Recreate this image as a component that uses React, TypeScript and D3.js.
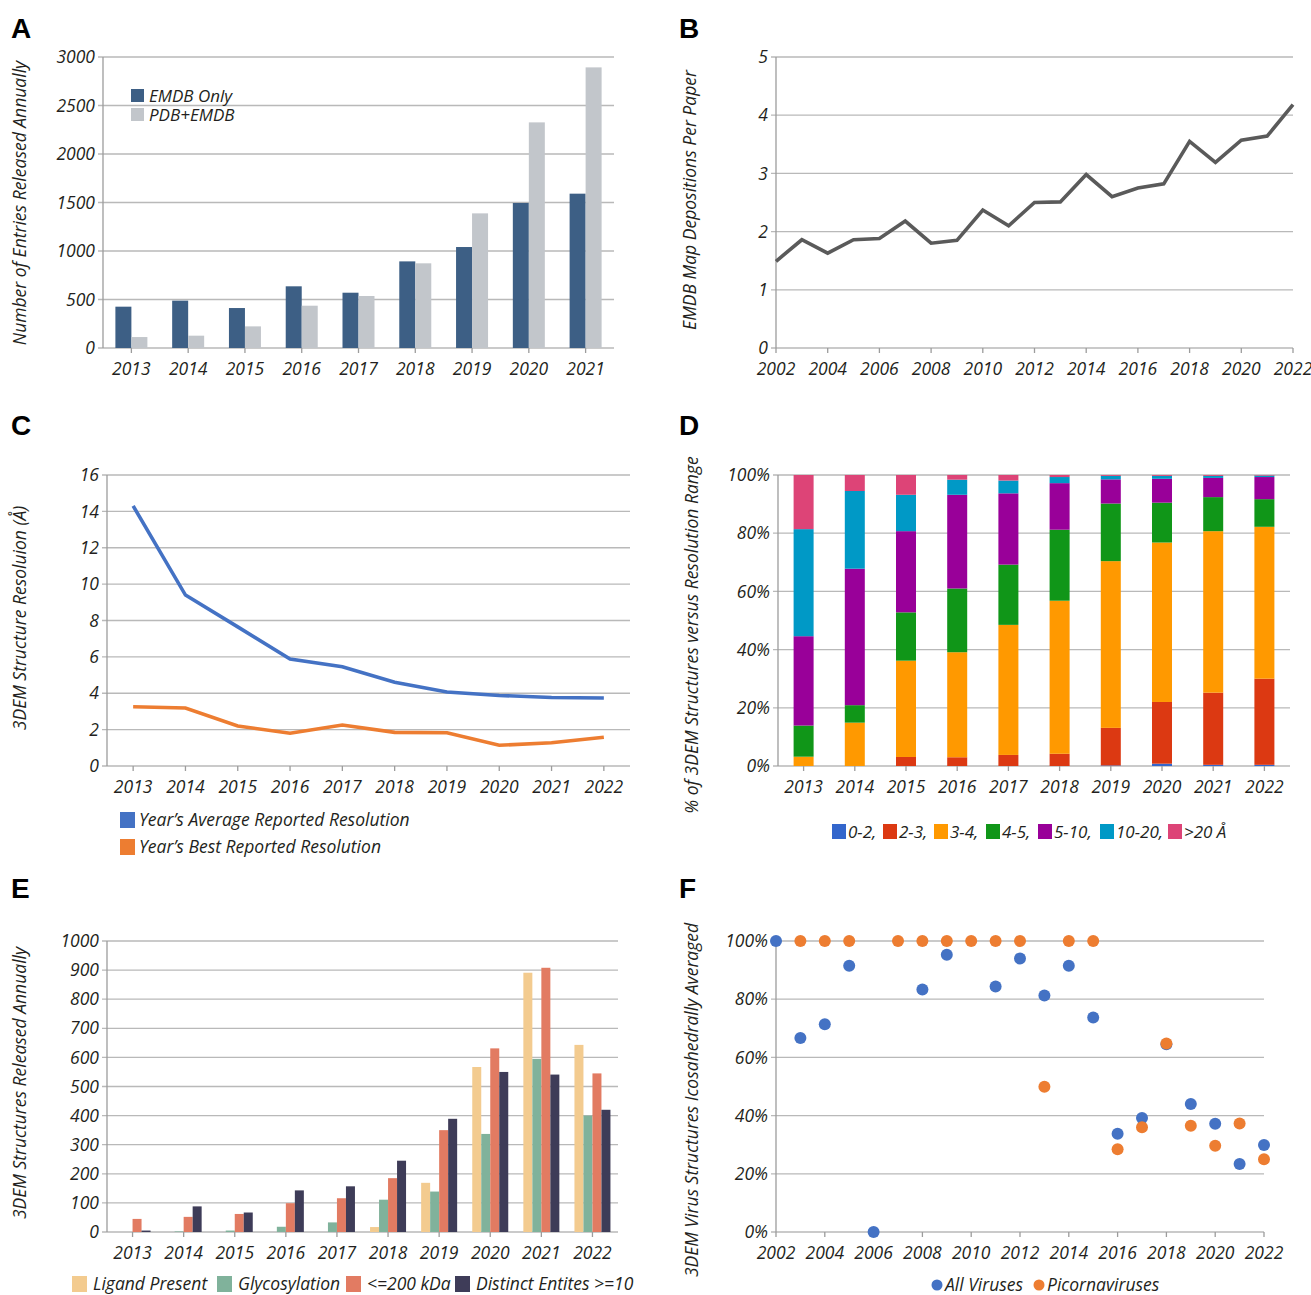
import React from "react";
import * as d3 from "d3";

const FONT = "'Open Sans', 'Noto Sans', sans-serif";
const TXT = "#231f20";
const GRID = "#b9b9b9";
const AXIS = "#9c9c9c";

// ---- A: entries released annually
const yearsA = ["2013", "2014", "2015", "2016", "2017", "2018", "2019", "2020", "2021"];
const emdbOnly = [426, 488, 412, 636, 570, 893, 1041, 1495, 1591];
const pdbEmdb = [113, 127, 223, 436, 536, 873, 1388, 2326, 2893];
const ticksA = [0, 500, 1000, 1500, 2000, 2500, 3000];

// ---- B: map depositions per paper
const yearsB = [2002, 2003, 2004, 2005, 2006, 2007, 2008, 2009, 2010, 2011, 2012, 2013, 2014, 2015, 2016, 2017, 2018, 2019, 2020, 2021, 2022];
const mapsPerPaper = [1.49, 1.86, 1.63, 1.86, 1.88, 2.18, 1.8, 1.85, 2.37, 2.1, 2.5, 2.51, 2.98, 2.6, 2.75, 2.82, 3.55, 3.19, 3.57, 3.64, 4.18];
const ticksB = [0, 1, 2, 3, 4, 5];
const xTicksB = [2002, 2004, 2006, 2008, 2010, 2012, 2014, 2016, 2018, 2020, 2022];

// ---- C: resolution
const yearsC = ["2013", "2014", "2015", "2016", "2017", "2018", "2019", "2020", "2021", "2022"];
const avgRes = [14.3, 9.4, 7.65, 5.88, 5.46, 4.6, 4.07, 3.88, 3.77, 3.74];
const bestRes = [3.26, 3.19, 2.2, 1.8, 2.25, 1.85, 1.83, 1.14, 1.28, 1.58];
const ticksC = [0, 2, 4, 6, 8, 10, 12, 14, 16];

// ---- D: % by resolution range
const yearsD = ["2013", "2014", "2015", "2016", "2017", "2018", "2019", "2020", "2021", "2022"];
const binLabels = ["0-2,", "2-3,", "3-4,", "4-5,", "5-10,", "10-20,", ">20 Å"];
const binColors = ["#3366cc", "#dc3912", "#ff9900", "#109618", "#990099", "#0099c6", "#dd4477"];
const pct0to2 = [0, 0, 0, 0, 0, 0, 0.2, 0.8, 0.4, 0.4];
const pct2to3 = [0, 0, 3.1, 3.0, 3.8, 4.2, 12.9, 21.2, 24.8, 29.6];
const pct3to4 = [3.2, 14.9, 33.1, 36.1, 44.7, 52.6, 57.3, 54.8, 55.5, 52.2];
const pct4to5 = [10.7, 6.0, 16.6, 21.9, 20.7, 24.4, 19.8, 13.7, 11.7, 9.5];
const pct5to10 = [30.7, 46.9, 27.9, 32.2, 24.5, 16.0, 8.3, 8.2, 6.6, 7.6];
const pct10to20 = [36.8, 26.7, 12.5, 5.2, 4.4, 2.1, 1.2, 1.0, 0.7, 0.5];
const pctOver20 = [18.6, 5.5, 6.8, 1.6, 1.9, 0.7, 0.3, 0.3, 0.3, 0.2];
const ticksD = [0, 20, 40, 60, 80, 100];

// ---- E: structures released annually by feature
const yearsE = ["2013", "2014", "2015", "2016", "2017", "2018", "2019", "2020", "2021", "2022"];
const featureLabels = ["Ligand Present", "Glycosylation", "<=200 kDa", "Distinct Entites >=10"];
const featureColors = ["#f3cb8f", "#80b29b", "#e27b62", "#3e3c58"];
const ligandPresent = [0, 0, 0, 0, 0, 17, 169, 567, 891, 643];
const glycosylation = [0, 2, 5, 18, 33, 111, 139, 337, 595, 400];
const under200kDa = [45, 52, 62, 99, 116, 185, 350, 631, 908, 545];
const distinctEntities = [5, 88, 67, 143, 157, 245, 389, 550, 541, 420];
const ticksE = [0, 100, 200, 300, 400, 500, 600, 700, 800, 900, 1000];

// ---- F: icosahedral averaging
const yearsF = [2002, 2003, 2004, 2005, 2006, 2007, 2008, 2009, 2010, 2011, 2012, 2013, 2014, 2015, 2016, 2017, 2018, 2019, 2020, 2021, 2022];
const allViruses = [100, 66.7, 71.4, 91.5, 0, null, 83.3, 95.3, null, 84.4, 94.0, 81.3, 91.5, 73.7, 33.8, 39.2, 64.5, 44.0, 37.2, 23.4, 29.9];
const picornaviruses = [null, 100, 100, 100, null, 100, 100, 100, 100, 100, 100, 49.9, 100, 100, 28.4, 36.0, 64.8, 36.5, 29.6, 37.3, 25.0];
const ticksF = [0, 20, 40, 60, 80, 100];
const xTicksF = [2002, 2004, 2006, 2008, 2010, 2012, 2014, 2016, 2018, 2020, 2022];

const FS = 17.5;
const tickStyle = { fontFamily: FONT, fontStyle: "italic", fontSize: FS, fill: TXT } as const;
const legStyle = { fontFamily: FONT, fontStyle: "italic", fontSize: 17.5, fill: TXT } as const;

function YGrid({ y, ticks, x0, x1, fmt }) {
  return (
    <g>
      {ticks.map((t) => (
        <g key={t}>
          <line x1={x0 - 5} x2={x1} y1={y(t)} y2={y(t)} stroke={GRID} strokeWidth={1.3} />
          <text x={x0 - 8} y={y(t)} dy="0.35em" textAnchor="end" {...tickStyle}>
            {fmt ? fmt(t) : t}
          </text>
        </g>
      ))}
      <line x1={x0} x2={x0} y1={y(ticks[ticks.length - 1])} y2={y(0)} stroke={AXIS} strokeWidth={1.3} />
    </g>
  );
}

function XTicks({ xs, labels, yb }) {
  return (
    <g>
      {xs.map((x, i) => (
        <g key={i}>
          <line x1={x} x2={x} y1={yb} y2={yb + 5} stroke={AXIS} strokeWidth={1.3} />
          <text x={x} y={yb + 27} textAnchor="middle" {...tickStyle}>
            {labels[i]}
          </text>
        </g>
      ))}
    </g>
  );
}

function YTitle({ x, y, children }) {
  return (
    <text
      transform={`translate(${x},${y}) rotate(-90)`}
      textAnchor="middle"
      fontFamily={FONT}
      fontStyle="italic"
      fontSize={17.5}
      fill={TXT}
    >
      {children}
    </text>
  );
}

function PanelLabel({ x, y, children }) {
  return (
    <text x={x} y={y} fontFamily="'Liberation Sans', Arial, sans-serif" fontWeight="bold" fontSize={28} fill="#000">
      {children}
    </text>
  );
}

function PanelA() {
  const x0 = 103, x1 = 614, yt = 57, yb = 348;
  const x = d3.scaleBand().domain(yearsA).range([x0, x1]);
  const y = d3.scaleLinear().domain([0, 3000]).range([yb, yt]);
  const c = (d) => x(d) + x.bandwidth() / 2;
  return (
    <g>
      <PanelLabel x={11} y={38}>A</PanelLabel>
      <YGrid y={y} ticks={ticksA} x0={x0} x1={x1} />
      {yearsA.map((d, i) => (
        <g key={d}>
          <rect x={c(d) - 16} width={16} y={y(emdbOnly[i])} height={yb - y(emdbOnly[i])} fill="#3d5f85" />
          <rect x={c(d)} width={16} y={y(pdbEmdb[i])} height={yb - y(pdbEmdb[i])} fill="#c2c6cb" />
        </g>
      ))}
      <XTicks xs={yearsA.map(c)} labels={yearsA} yb={yb} />
      <YTitle x={26} y={203}>Number of Entries Released Annually</YTitle>
      <rect x={131} y={89} width={13} height={13} fill="#3d5f85" />
      <text x={149} y={102} {...legStyle} fontSize={17}>EMDB Only</text>
      <rect x={131} y={108} width={13} height={13} fill="#c2c6cb" />
      <text x={149} y={121} {...legStyle} fontSize={17}>PDB+EMDB</text>
    </g>
  );
}

function PanelB() {
  const x0 = 776, x1 = 1293, yt = 57, yb = 348;
  const x = d3.scaleLinear().domain([2002, 2022]).range([x0, x1]);
  const y = d3.scaleLinear().domain([0, 5]).range([yb, yt]);
  const line = d3.line<number>().x((_, i) => x(yearsB[i])).y((v) => y(v));
  return (
    <g>
      <PanelLabel x={679} y={38}>B</PanelLabel>
      <YGrid y={y} ticks={ticksB} x0={x0} x1={x1} />
      <XTicks xs={xTicksB.map(x)} labels={xTicksB} yb={yb} />
      <path d={line(mapsPerPaper)} fill="none" stroke="#5a5a5a" strokeWidth={3.6} strokeLinejoin="miter" />
      <YTitle x={696} y={200}>EMDB Map Depositions Per Paper</YTitle>
    </g>
  );
}

function PanelC() {
  const x0 = 107, x1 = 630, yt = 475, yb = 766;
  const x = d3.scaleBand().domain(yearsC).range([x0, x1]);
  const y = d3.scaleLinear().domain([0, 16]).range([yb, yt]);
  const c = (d) => x(d) + x.bandwidth() / 2;
  const line = d3.line<number>().x((_, i) => c(yearsC[i])).y((v) => y(v));
  return (
    <g>
      <PanelLabel x={11} y={435}>C</PanelLabel>
      <YGrid y={y} ticks={ticksC} x0={x0} x1={x1} />
      <XTicks xs={yearsC.map(c)} labels={yearsC} yb={yb} />
      <path d={line(avgRes)} fill="none" stroke="#4472c4" strokeWidth={3.6} />
      <path d={line(bestRes)} fill="none" stroke="#ed7d31" strokeWidth={3.6} />
      <YTitle x={26} y={618}>3DEM Structure Resoluion (Å)</YTitle>
      <rect x={120} y={812} width={15} height={16} fill="#4472c4" />
      <text x={139} y={826} {...legStyle}>Year’s Average Reported Resolution</text>
      <rect x={120} y={839} width={15} height={16} fill="#ed7d31" />
      <text x={139} y={853} {...legStyle}>Year’s Best Reported Resolution</text>
    </g>
  );
}

function PanelD() {
  const x0 = 778, x1 = 1290, yt = 475, yb = 766;
  const x = d3.scaleBand().domain(yearsD).range([x0, x1]);
  const y = d3.scaleLinear().domain([0, 100]).range([yb, yt]);
  const c = (d) => x(d) + x.bandwidth() / 2;
  const series = [pct0to2, pct2to3, pct3to4, pct4to5, pct5to10, pct10to20, pctOver20];
  const rows = yearsD.map((yr, i) => {
    const r = { year: yr };
    series.forEach((s, k) => (r[binLabels[k]] = s[i]));
    return r;
  });
  const stacked = d3.stack().keys(binLabels)(rows);
  const legendX = [832, 883, 934, 986, 1038, 1100, 1168];
  return (
    <g>
      <PanelLabel x={679} y={435}>D</PanelLabel>
      <YGrid y={y} ticks={ticksD} x0={x0} x1={x1} fmt={(t) => `${t}%`} />
      {stacked.map((layer, k) => (
        <g key={k} fill={binColors[k]}>
          {layer.map((seg, i) => (
            <rect key={i} x={c(yearsD[i]) - 10} width={20} y={y(seg[1])} height={Math.max(0, y(seg[0]) - y(seg[1]))} />
          ))}
        </g>
      ))}
      <XTicks xs={yearsD.map(c)} labels={yearsD} yb={yb} />
      <YTitle x={698} y={635}>% of 3DEM Structures versus Resolution Range</YTitle>
      {binLabels.map((l, k) => (
        <g key={l}>
          <rect x={legendX[k]} y={824} width={14} height={15} fill={binColors[k]} />
          <text x={legendX[k] + 16} y={838} {...legStyle} fontSize={17}>{l}</text>
        </g>
      ))}
    </g>
  );
}

function PanelE() {
  const x0 = 107, x1 = 618, yt = 941, yb = 1232;
  const x = d3.scaleBand().domain(yearsE).range([x0, x1]);
  const y = d3.scaleLinear().domain([0, 1000]).range([yb, yt]);
  const c = (d) => x(d) + x.bandwidth() / 2;
  const series = [ligandPresent, glycosylation, under200kDa, distinctEntities];
  const legendX = [72, 217, 346, 455];
  return (
    <g>
      <PanelLabel x={11} y={898}>E</PanelLabel>
      <YGrid y={y} ticks={ticksE} x0={x0} x1={x1} />
      {series.map((s, k) => (
        <g key={k} fill={featureColors[k]}>
          {s.map((v, i) => (
            <rect key={i} x={c(yearsE[i]) - 18 + k * 9} width={9} y={y(v)} height={yb - y(v)} />
          ))}
        </g>
      ))}
      <XTicks xs={yearsE.map(c)} labels={yearsE} yb={yb} />
      <YTitle x={26} y={1083}>3DEM Structures Released Annually</YTitle>
      {featureLabels.map((l, k) => (
        <g key={l}>
          <rect x={legendX[k]} y={1276} width={15} height={16} fill={featureColors[k]} />
          <text x={legendX[k] + 21} y={1290} {...legStyle}>{l}</text>
        </g>
      ))}
    </g>
  );
}

function PanelF() {
  const x0 = 776, x1 = 1264, yt = 941, yb = 1232;
  const x = d3.scaleLinear().domain([2002, 2022]).range([x0, x1]);
  const y = d3.scaleLinear().domain([0, 100]).range([yb, yt]);
  return (
    <g>
      <PanelLabel x={679} y={898}>F</PanelLabel>
      <YGrid y={y} ticks={ticksF} x0={x0} x1={x1} fmt={(t) => `${t}%`} />
      <XTicks xs={xTicksF.map(x)} labels={xTicksF} yb={yb} />
      {allViruses.map((v, i) =>
        v == null ? null : <circle key={"a" + i} cx={x(yearsF[i])} cy={y(v)} r={6} fill="#4472c4" />
      )}
      {picornaviruses.map((v, i) =>
        v == null ? null : <circle key={"p" + i} cx={x(yearsF[i])} cy={y(v)} r={6} fill="#ed7d31" />
      )}
      <YTitle x={698} y={1100}>3DEM Virus Structures Icosahedrally Averaged</YTitle>
      <circle cx={937} cy={1285} r={5.5} fill="#4472c4" />
      <text x={945} y={1291} {...legStyle}>All Viruses</text>
      <circle cx={1039} cy={1285} r={5.5} fill="#ed7d31" />
      <text x={1047} y={1291} {...legStyle}>Picornaviruses</text>
    </g>
  );
}

export default function App() {
  return (
    <div style={{ position: "absolute", left: 0, top: 0 }}>
      <svg width={1311} height={1295} style={{ display: "block", background: "#fff" }}>
        <PanelA />
        <PanelB />
        <PanelC />
        <PanelD />
        <PanelE />
        <PanelF />
      </svg>
    </div>
  );
}
